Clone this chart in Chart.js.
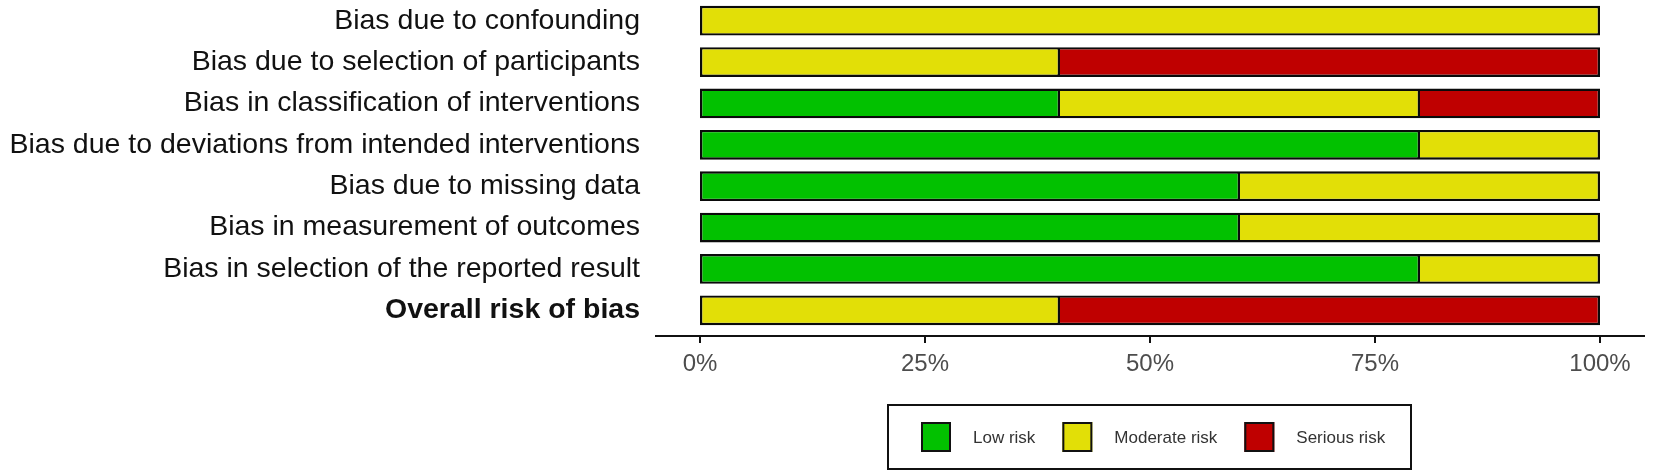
<!DOCTYPE html>
<html>
<head>
<meta charset="utf-8">
<script src="https://cdn.jsdelivr.net/npm/chart.js@4.4.1/dist/chart.umd.min.js"></script>
<style>
  html, body { margin: 0; padding: 0; background: #fff; }
  #wrap { width: 1653px; height: 475px; }
</style>
</head>
<body>
<div id="wrap"><canvas id="chart" width="1653" height="475"></canvas></div>
<script>
const categories = [
  "Bias due to confounding",
  "Bias due to selection of participants",
  "Bias in classification of interventions",
  "Bias due to deviations from intended interventions",
  "Bias due to missing data",
  "Bias in measurement of outcomes",
  "Bias in selection of the reported result",
  "Overall risk of bias",
];
const lowRisk = [0, 0, 40, 80, 60, 60, 80, 0];
const moderateRisk = [100, 40, 40, 20, 40, 40, 20, 40];
const seriousRisk = [0, 60, 20, 0, 0, 0, 0, 60];
const xTicks = [0, 25, 50, 75, 100];
const riskLabels = ["Low risk", "Moderate risk", "Serious risk"];
const riskColors = ["#02C100", "#E2DF07", "#BF0000"];

const FONT = "'Liberation Sans', Arial, Helvetica, sans-serif";
const series = [lowRisk, moderateRisk, seriousRisk];

// first non-empty segment of a row keeps its left border, the rest skip it
function firstSegment(row) {
  return series.findIndex((s) => s[row] > 0);
}

const axisAndLegend = {
  id: "axisAndLegend",
  afterDraw(chart) {
    const ctx = chart.ctx;
    const area = chart.chartArea;
    const x = chart.scales.x;
    const axisY = area.bottom + 5;

    ctx.save();
    ctx.strokeStyle = "#111";
    ctx.lineWidth = 2;
    ctx.beginPath();
    ctx.moveTo(area.left, axisY);
    ctx.lineTo(area.right, axisY);
    xTicks.forEach((v) => {
      const px = Math.round(x.getPixelForValue(v));
      ctx.moveTo(px, axisY);
      ctx.lineTo(px, axisY + 7);
    });
    ctx.stroke();

    // legend
    ctx.font = "17px " + FONT;
    const key = 30, keyGap = 22, itemGap = 27, padL = 33, padR = 26;
    const widths = riskLabels.map((l) => ctx.measureText(l).width);
    let total = padL + padR + itemGap * (riskLabels.length - 1);
    widths.forEach((w) => (total += key + keyGap + w));
    const boxLeft = Math.round((area.left + area.right) / 2 - total / 2);
    const boxTop = 405, boxH = 64;
    ctx.lineWidth = 2;
    ctx.strokeStyle = "#111";
    ctx.strokeRect(boxLeft, boxTop, Math.round(total), boxH);

    let cx = boxLeft + padL;
    const keyTop = boxTop + (boxH - key) / 2;
    ctx.textBaseline = "middle";
    ctx.textAlign = "left";
    riskLabels.forEach((label, i) => {
      ctx.fillStyle = riskColors[i];
      ctx.fillRect(cx, keyTop, key, key);
      ctx.strokeStyle = "#111";
      ctx.lineWidth = 2;
      ctx.strokeRect(cx + 1, keyTop + 1, key - 2, key - 2);
      ctx.fillStyle = "#333";
      ctx.fillText(label, cx + key + keyGap, keyTop + key / 2 + 1);
      cx += key + keyGap + widths[i] + itemGap;
    });
    ctx.restore();
  },
};

new Chart(document.getElementById("chart"), {
  type: "bar",
  data: {
    labels: categories,
    datasets: series.map((data, i) => ({
      label: riskLabels[i],
      data,
      backgroundColor: riskColors[i],
      borderColor: "#0a0a0a",
      borderWidth: 2.4,
      borderSkipped: (c) => (firstSegment(c.dataIndex) === c.datasetIndex ? false : "left"),
      barPercentage: 0.72,
      categoryPercentage: 1,
    })),
  },
  options: {
    indexAxis: "y",
    responsive: false,
    animation: false,
    layout: { padding: { top: 0, right: 8, bottom: 0, left: 0 } },
    plugins: {
      legend: { display: false },
      tooltip: { enabled: false },
    },
    scales: {
      x: {
        stacked: true,
        min: -5,
        max: 105,
        afterBuildTicks: (scale) => {
          scale.ticks = xTicks.map((v) => ({ value: v }));
        },
        afterFit: (scale) => {
          scale.height = 475 - 331;
        },
        grid: { display: false, drawTicks: false },
        border: { display: false },
        ticks: {
          padding: 19,
          color: "#4d4d4d",
          font: { family: FONT, size: 24 },
          maxRotation: 0,
          callback: (v) => v + "%",
        },
      },
      y: {
        stacked: true,
        afterFit: (scale) => {
          scale.width = 655;
          scale.paddingTop = 0;
          scale.paddingBottom = 0;
        },
        grid: { display: false, drawTicks: false },
        border: { display: false },
        ticks: {
          padding: 15,
          color: "#111",
          font: (c) => ({
            family: FONT,
            size: 28.5,
            weight: c.index === categories.length - 1 ? "bold" : "normal",
          }),
        },
      },
    },
  },
  plugins: [axisAndLegend],
});
</script>
</body>
</html>
